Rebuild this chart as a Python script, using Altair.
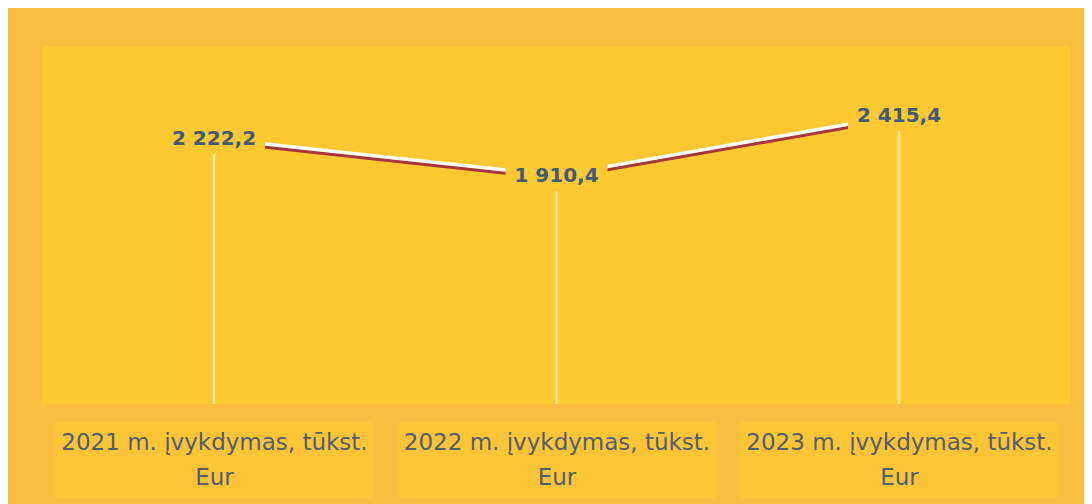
import altair as alt
import pandas as pd

categories = [
    "2021 m. įvykdymas, tūkst.\nEur",
    "2022 m. įvykdymas, tūkst.\nEur",
    "2023 m. įvykdymas, tūkst.\nEur",
]
values = [2222.2, 1910.4, 2415.4]
value_labels = ["2 222,2", "1 910,4", "2 415,4"]

df = pd.DataFrame({"cat": categories, "val": values, "lab": value_labels})

PLOT_FILL = "#FDC830"
BG = "#FBBD3E"
LABEL_BOX = "#FDC435"

x = alt.X(
    "cat:N",
    sort=categories,
    scale=alt.Scale(type="point", padding=0.5),
    axis=alt.Axis(
        title=None,
        domain=False,
        ticks=False,
        grid=False,
        labelAngle=0,
        labelExpr="split(datum.label, '\\n')",
        labelFont="DejaVu Sans",
        labelFontSize=23,
        labelColor="#505E72",
        labelLineHeight=35,
        labelPadding=27,
        labelBaseline="top",
        labelLimit=0,
        zindex=1,
    ),
)
y = alt.Y("val:Q", scale=alt.Scale(domain=[0, 3000], nice=False, zero=True), axis=None)

base = alt.Chart(df).encode(x=x)

label_boxes = base.mark_rect(width=318, color=LABEL_BOX).encode(
    y=alt.value(376), y2=alt.value(452)
)
drops = base.mark_rule(color="#FFF0C0", strokeWidth=2.5, opacity=0.8).encode(
    y=y, y2=alt.datum(0)
)
red_line = base.mark_line(color="#A8353A", strokeWidth=3.5, yOffset=2.5).encode(y=y)
white_line = base.mark_line(color="#FFFFFF", strokeWidth=3.5, yOffset=-0.5).encode(y=y)
boxes = base.mark_point(
    shape="M-1,-0.3H1V0.3H-1Z",
    size=10404,
    filled=True,
    color=PLOT_FILL,
    opacity=1,
    strokeWidth=0,
).encode(y=y)
texts = base.mark_text(
    font="DejaVu Sans",
    fontSize=20,
    fontWeight="bold",
    color="#415A7A",
).encode(y=y, text="lab:N")

chart = (
    alt.layer(label_boxes, drops, red_line, white_line, boxes, texts)
    .properties(
        width=1027.5,
        height=358,
        autosize="none",
        padding={"left": 34.75, "top": 38, "right": 13.75, "bottom": 100},
        background=BG,
    )
    .configure_view(fill=PLOT_FILL, stroke=None)
)

chart.save("out.html", embed_options={"renderer": "svg", "actions": False})
